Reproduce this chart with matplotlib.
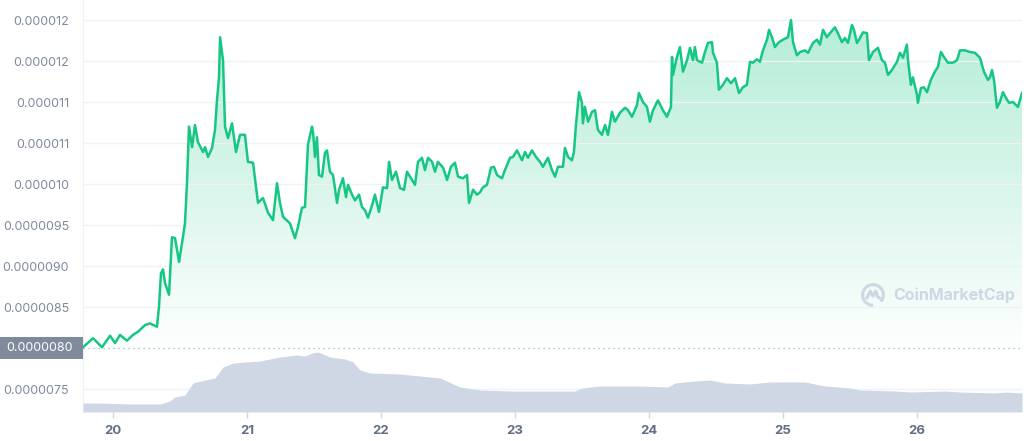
import numpy as np
import matplotlib.pyplot as plt
import matplotlib.colors as mcolors
from matplotlib.patches import Polygon, Rectangle, Arc
from matplotlib.lines import Line2D

plt.rcParams['font.family'] = ['Inter', 'DejaVu Sans']

# price (USD, in units of 1e-6) by day of the month
days = [19.776, 19.851, 19.918, 19.978, 20.015, 20.052, 20.104, 20.149, 20.187, 20.239,
        20.276, 20.328, 20.343, 20.358, 20.373, 20.388, 20.418, 20.440, 20.463, 20.493,
        20.515, 20.537, 20.552, 20.567, 20.590, 20.612, 20.634, 20.672, 20.687, 20.709,
        20.739, 20.761, 20.776, 20.791, 20.799, 20.821, 20.836, 20.858, 20.888, 20.918,
        20.948, 20.985, 21.007, 21.045, 21.082, 21.119, 21.157, 21.194, 21.224, 21.246,
        21.269, 21.321, 21.358, 21.381, 21.410, 21.433, 21.455, 21.485, 21.493, 21.507,
        21.522, 21.537, 21.560, 21.582, 21.597, 21.619, 21.642, 21.672, 21.687, 21.716,
        21.739, 21.754, 21.784, 21.806, 21.836, 21.858, 21.881, 21.903, 21.933, 21.955,
        21.985, 22.015, 22.045, 22.060, 22.082, 22.112, 22.142, 22.172, 22.194, 22.231,
        22.254, 22.276, 22.306, 22.328, 22.351, 22.381, 22.403, 22.425, 22.463, 22.493,
        22.522, 22.552, 22.575, 22.612, 22.642, 22.657, 22.687, 22.716, 22.739, 22.761,
        22.791, 22.821, 22.843, 22.866, 22.903, 22.925, 22.963, 22.985, 23.015, 23.052,
        23.075, 23.097, 23.127, 23.157, 23.187, 23.209, 23.246, 23.276, 23.299, 23.321,
        23.358, 23.373, 23.396, 23.425, 23.440, 23.455, 23.478, 23.500, 23.507, 23.522,
        23.545, 23.575, 23.597, 23.619, 23.649, 23.672, 23.694, 23.724, 23.746, 23.784,
        23.821, 23.843, 23.873, 23.910, 23.925, 23.955, 23.985, 24.007, 24.030, 24.067,
        24.104, 24.134, 24.164, 24.172, 24.179, 24.209, 24.231, 24.254, 24.284, 24.306,
        24.328, 24.343, 24.358, 24.396, 24.418, 24.440, 24.470, 24.478, 24.507, 24.522,
        24.552, 24.582, 24.612, 24.642, 24.672, 24.701, 24.731, 24.754, 24.776, 24.806,
        24.828, 24.851, 24.881, 24.896, 24.918, 24.940, 24.970, 25.000, 25.037, 25.060,
        25.075, 25.104, 25.127, 25.164, 25.187, 25.224, 25.254, 25.276, 25.299, 25.328,
        25.351, 25.388, 25.410, 25.440, 25.463, 25.485, 25.515, 25.530, 25.552, 25.575,
        25.597, 25.627, 25.642, 25.672, 25.709, 25.739, 25.761, 25.784, 25.813, 25.851,
        25.873, 25.896, 25.925, 25.933, 25.955, 25.970, 26.000, 26.007, 26.030, 26.052,
        26.075, 26.104, 26.134, 26.157, 26.179, 26.201, 26.231, 26.269, 26.299, 26.321,
        26.358, 26.396, 26.433, 26.470, 26.500, 26.530, 26.545, 26.560, 26.575, 26.597,
        26.619, 26.642, 26.664, 26.687, 26.716, 26.754, 26.784]
price = [8.01, 8.12, 8.01, 8.15, 8.06, 8.16, 8.09, 8.16, 8.20, 8.28,
         8.30, 8.26, 8.50, 8.91, 8.96, 8.79, 8.65, 9.35, 9.34, 9.05,
         9.28, 9.52, 10.01, 10.70, 10.45, 10.72, 10.51, 10.39, 10.45, 10.33,
         10.44, 10.66, 11.02, 11.30, 11.79, 11.51, 10.70, 10.56, 10.74, 10.39,
         10.60, 10.60, 10.27, 10.26, 9.77, 9.83, 9.65, 9.56, 10.01, 9.77,
         9.60, 9.52, 9.34, 9.48, 9.71, 9.72, 10.48, 10.70, 10.63, 10.33,
         10.57, 10.11, 10.09, 10.38, 10.41, 10.15, 10.11, 9.77, 9.93, 10.07,
         9.84, 9.99, 9.87, 9.80, 9.87, 9.72, 9.68, 9.59, 9.74, 9.87,
         9.66, 9.96, 9.95, 10.27, 10.05, 10.15, 9.95, 9.93, 10.15, 10.05,
         9.99, 10.27, 10.32, 10.17, 10.32, 10.27, 10.15, 10.27, 10.20, 10.05,
         10.21, 10.26, 10.09, 10.07, 10.11, 9.77, 9.93, 9.87, 9.90, 9.96,
         9.99, 10.20, 10.21, 10.11, 10.07, 10.17, 10.32, 10.33, 10.41, 10.29,
         10.39, 10.32, 10.41, 10.33, 10.27, 10.21, 10.32, 10.17, 10.09, 10.21,
         10.21, 10.44, 10.33, 10.29, 10.39, 10.72, 11.12, 10.99, 10.74, 10.94,
         10.76, 10.88, 10.90, 10.66, 10.60, 10.72, 10.60, 10.88, 10.76, 10.87,
         10.93, 10.90, 10.82, 10.96, 11.11, 11.00, 10.94, 10.76, 10.90, 11.02,
         10.90, 10.82, 10.94, 11.55, 11.33, 11.55, 11.67, 11.37, 11.51, 11.66,
         11.51, 11.67, 11.51, 11.48, 11.61, 11.72, 11.73, 11.60, 11.48, 11.15,
         11.21, 11.29, 11.23, 11.29, 11.11, 11.18, 11.21, 11.49, 11.48, 11.52,
         11.49, 11.63, 11.76, 11.88, 11.79, 11.67, 11.73, 11.76, 11.79, 12.00,
         11.73, 11.57, 11.61, 11.63, 11.60, 11.72, 11.76, 11.70, 11.88, 11.79,
         11.84, 11.91, 11.84, 11.73, 11.78, 11.72, 11.94, 11.88, 11.72, 11.78,
         11.85, 11.84, 11.51, 11.61, 11.66, 11.51, 11.48, 11.33, 11.39, 11.49,
         11.60, 11.54, 11.70, 11.51, 11.21, 11.30, 11.09, 10.99, 11.17, 11.18,
         11.12, 11.27, 11.37, 11.43, 11.61, 11.55, 11.48, 11.48, 11.51, 11.63,
         11.63, 11.61, 11.60, 11.54, 11.37, 11.27, 11.30, 11.39, 11.27, 10.93,
         11.00, 11.12, 11.05, 10.99, 11.00, 10.94, 11.11]

# 24h volume (million USD, approximate)
vol_days = [19.776, 19.903, 20.127, 20.351, 20.425, 20.463, 20.537, 20.597, 20.687, 20.761,
            20.821, 20.896, 21.097, 21.246, 21.373, 21.433, 21.485, 21.530, 21.619, 21.731,
            21.791, 21.843, 21.918, 22.142, 22.366, 22.440, 22.590, 22.739, 22.963, 23.187,
            23.448, 23.500, 23.634, 23.933, 24.142, 24.194, 24.343, 24.455, 24.567, 24.754,
            24.903, 25.164, 25.313, 25.500, 25.575, 25.836, 25.948, 26.209, 26.321, 26.582,
            26.657, 26.784]
volume = [22.5, 22.5, 20, 20, 27.5, 37.5, 42.5, 72.5, 80, 85,
          112.5, 122.5, 127.5, 137.5, 142.5, 140, 147.5, 150, 137.5, 132.5,
          125, 105, 97.5, 95, 87.5, 85, 62.5, 55, 52.5, 52.5,
          52.5, 60, 65, 65, 62.5, 72.5, 77.5, 80, 72.5, 70,
          75, 75, 65, 60, 55, 52.5, 50, 52.5, 50, 47.5,
          50, 47.5]

ytick_vals = [7.5e-6, 8.5e-6, 9.0e-6, 9.5e-6, 10.0e-6, 10.5e-6, 11.0e-6, 11.5e-6, 12.0e-6]
ytick_labels = ['0.0000075', '0.0000085', '0.0000090', '0.0000095', '0.000010',
                '0.000011', '0.000011', '0.000012', '0.000012']
xtick_vals = [20, 21, 22, 23, 24, 25, 26]
open_price = 8.0e-6

x = np.array(days)
y = np.array(price) * 1e-6
ybot, ytop = 7.22e-6, 12.244e-6
green = '#16c784'

fig = plt.figure(figsize=(10.24, 4.41), dpi=100)
ax = fig.add_axes([83 / 1024, 29 / 441, 939 / 1024, 412 / 441])

# gradient fill under the price line
cmap = mcolors.LinearSegmentedColormap.from_list(
    'fade', [(0.086, 0.78, 0.52, 0.0), (0.086, 0.78, 0.52, 0.32)])
grad = np.linspace(0, 1, 256).reshape(-1, 1)
im = ax.imshow(grad, extent=[x[0], x[-1], 7.9e-6, y.max()], origin='lower',
               aspect='auto', cmap=cmap, zorder=1)
clip = Polygon(np.column_stack([np.r_[x[0], x, x[-1]], np.r_[ybot, y, ybot]]),
               closed=True, facecolor='none', edgecolor='none', transform=ax.transData)
ax.add_patch(clip)
im.set_clip_path(clip)

ax.plot(x, y, color=green, lw=1.8, zorder=4, solid_joinstyle='round')
ax.axhline(open_price, color='#a6b0c3', lw=0.9, ls=(0, (1, 3)), zorder=3)

ax.set_xlim(x[0], x[-1])
ax.set_ylim(ybot, ytop)
ax.set_yticks(ytick_vals)
ax.set_yticklabels(ytick_labels)
ax.set_xticks(xtick_vals)
ax.grid(axis='y', color='#eff2f5', lw=1)
ax.tick_params(axis='y', length=0, pad=10, labelsize=9, labelcolor='#808a9d')
ax.tick_params(axis='x', length=4, width=1, color='#cfd6e4', pad=5,
               labelsize=9.5, labelcolor='#616e85')
for lab in ax.get_xticklabels():
    lab.set_fontweight('bold')
for s in ['top', 'right', 'bottom']:
    ax.spines[s].set_visible(False)
ax.spines['left'].set_color('#eff2f5')

# volume area on a twin axis
ax2 = ax.twinx()
ax2.fill_between(vol_days, volume, color='#cfd6e4', lw=0)
ax2.set_ylim(0, 1030)
ax2.axis('off')

# boxed label for the opening price
ax.add_patch(Rectangle((-83 / 939, open_price - 0.135e-6), 83 / 939, 0.27e-6,
                       transform=ax.get_yaxis_transform(), facecolor='#808a9d',
                       edgecolor='none', clip_on=False, zorder=5))
ax.text(-10 / 939, open_price, '0.0000080', transform=ax.get_yaxis_transform(),
        ha='right', va='center', fontsize=9, color='white', zorder=6)

# watermark
fig.text(893 / 1024, 146 / 441, 'CoinMarketCap', fontsize=11.5, fontweight='bold',
         color='#cfd6e4', ha='left', va='center')
lax = fig.add_axes([861 / 1024, 134 / 441, 24 / 1024, 24 / 441])
lax.set_xlim(-1.1, 1.1)
lax.set_ylim(-1.1, 1.1)
lax.axis('off')
lax.add_patch(Arc((0, 0), 1.9, 1.9, theta1=-40, theta2=270, color='#cfd6e4', lw=2.2))
lax.add_line(Line2D([-0.55, -0.25, 0.0, 0.25, 0.45, 0.75],
                    [-0.25, 0.35, -0.1, 0.35, -0.2, -0.35], color='#cfd6e4', lw=2.2))

fig.savefig('out.png', dpi=100)
